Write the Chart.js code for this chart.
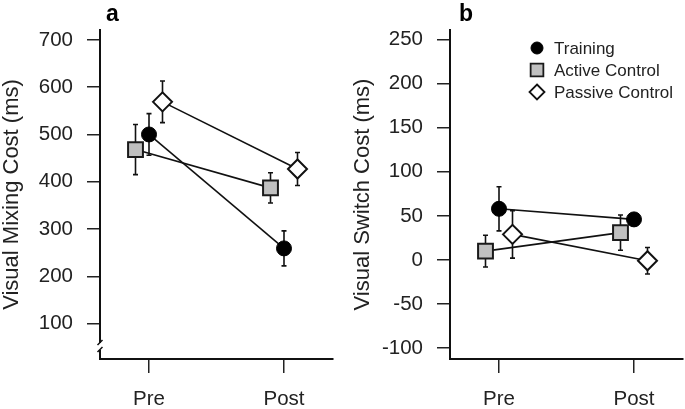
<!DOCTYPE html>
<html><head><meta charset="utf-8">
<script src="https://cdn.jsdelivr.net/npm/chart.js@4.4.0/dist/chart.umd.min.js"></script>
<style>
html,body{margin:0;padding:0;background:#fff;width:685px;height:409px;overflow:hidden}
#wa{position:absolute;left:0;top:0;width:342px;height:409px}
#wb{position:absolute;left:342px;top:0;width:343px;height:409px}
.lbl{position:absolute;font:bold 23px "Liberation Sans",Arial,sans-serif;color:#000;line-height:23px}
</style></head><body>
<div id="wa"><canvas id="ca" width="342" height="409"></canvas></div>
<div id="wb"><canvas id="cb" width="343" height="409"></canvas></div>
<div class="lbl" style="left:106px;top:2px">a</div>
<div class="lbl" style="left:459px;top:2px">b</div>
<script>
// ---- data ----
const categories = ['Pre', 'Post'];
const groups = ['Training', 'Active Control', 'Passive Control'];
const mixingTicks = [100, 200, 300, 400, 500, 600, 700];
const switchTicks = [-100, -50, 0, 50, 100, 150, 200, 250];

const mixingTraining = [500, 259];
const mixingTrainingErr = [44, 37];
const mixingActive = [468, 387];
const mixingActiveErr = [53, 32];
const mixingPassive = [569, 427];
const mixingPassiveErr = [44, 35];

const switchTraining = [58, 46];
const switchTrainingErr = [25, 7];
const switchActive = [10, 31];
const switchActiveErr = [18, 20];
const switchPassive = [29, -1];
const switchPassiveErr = [27, 15];

// ---- styles ----
const FONT = '"Liberation Sans", Arial, Helvetica, sans-serif';
const groupOffsets = [0, -0.1, 0.1];
const groupStyles = [
  {pointStyle: 'circle', pointRadius: 7.5, pointBackgroundColor: '#000', pointBorderColor: '#000', pointBorderWidth: 1},
  {pointStyle: 'rect', pointRadius: 10.5, pointBackgroundColor: '#c0c0c0', pointBorderColor: '#1a1a1a', pointBorderWidth: 2},
  {pointStyle: 'rectRot', pointRadius: 9.5, pointBackgroundColor: '#fff', pointBorderColor: '#111', pointBorderWidth: 2}
];

function buildDatasets(series, errs) {
  return groups.map((g, k) => Object.assign({
    label: g,
    data: categories.map((c, i) => ({x: i + 1 + groupOffsets[k], y: series[k][i]})),
    err: errs[k],
    borderColor: '#111',
    borderWidth: 1.6,
    fill: false,
    tension: 0,
    pointHoverRadius: 0
  }, groupStyles[k]));
}

const errorBars = {
  id: 'errorBars',
  beforeDatasetsDraw(chart) {
    const {ctx, scales: {x, y}} = chart;
    ctx.save();
    ctx.strokeStyle = '#111';
    ctx.lineWidth = 1.6;
    chart.data.datasets.forEach(ds => {
      ds.data.forEach((p, i) => {
        const px = x.getPixelForValue(p.x);
        const t = y.getPixelForValue(p.y + ds.err[i]);
        const b = y.getPixelForValue(p.y - ds.err[i]);
        ctx.beginPath();
        ctx.moveTo(px, t); ctx.lineTo(px, b);
        ctx.moveTo(px - 2.5, t); ctx.lineTo(px + 2.5, t);
        ctx.moveTo(px - 2.5, b); ctx.lineTo(px + 2.5, b);
        ctx.stroke();
      });
    });
    ctx.restore();
  }
};

const axisBreak = {
  id: 'axisBreak',
  afterDraw(chart) {
    const {ctx, chartArea} = chart;
    const x = chartArea.left, yb = chartArea.bottom - 12;
    ctx.save();
    ctx.fillStyle = '#fff';
    ctx.fillRect(x - 4, yb - 4, 8, 7);
    ctx.strokeStyle = '#111';
    ctx.lineWidth = 1.5;
    ctx.beginPath();
    ctx.moveTo(x - 2.5, yb - 2); ctx.lineTo(x + 2.5, yb - 7);
    ctx.moveTo(x - 2.5, yb + 5); ctx.lineTo(x + 2.5, yb);
    ctx.stroke();
    ctx.restore();
  }
};

function drawMarker(ctx, style, x, y, r) {
  ctx.beginPath();
  if (style === 'circle') {
    ctx.arc(x, y, r, 0, Math.PI * 2);
  } else if (style === 'rect') {
    const s = r * Math.SQRT1_2;
    ctx.rect(x - s, y - s, 2 * s, 2 * s);
  } else {
    ctx.moveTo(x, y - r); ctx.lineTo(x + r, y); ctx.lineTo(x, y + r); ctx.lineTo(x - r, y); ctx.closePath();
  }
  ctx.fill();
  ctx.stroke();
}

const panelLegend = {
  id: 'panelLegend',
  afterDraw(chart) {
    const {ctx} = chart;
    ctx.save();
    chart.data.datasets.forEach((ds, k) => {
      const y = 48 + k * 22;
      ctx.fillStyle = ds.pointBackgroundColor;
      ctx.strokeStyle = ds.pointBorderColor;
      ctx.lineWidth = ds.pointBorderWidth > 1 ? 1.8 : 1;
      drawMarker(ctx, ds.pointStyle, 195, y, ds.pointStyle === 'circle' ? 6 : (ds.pointStyle === 'rect' ? 9 : 7.5));
      ctx.fillStyle = '#222';
      ctx.font = '17px ' + FONT;
      ctx.textAlign = 'left';
      ctx.textBaseline = 'middle';
      ctx.fillText(ds.label, 212, y + 1);
    });
    ctx.restore();
  }
};

function makeChart(id, series, errs, ticks, yMin, yMax, title, yWidth, padRight, titlePad, extraPlugins) {
  return new Chart(document.getElementById(id), {
    type: 'line',
    data: {datasets: buildDatasets(series, errs)},
    options: {
      responsive: false,
      animation: false,
      events: [],
      layout: {autoPadding: false, padding: {left: 0, right: padRight, top: 30, bottom: 0}},
      plugins: {legend: {display: false}, tooltip: {enabled: false}},
      scales: {
        x: {
          type: 'linear',
          min: 0.637, max: 2.363,
          afterBuildTicks: s => { s.ticks = categories.map((c, i) => ({value: i + 1})); },
          afterFit: s => { s.height = 50; s.paddingLeft = 0; s.paddingRight = 0; },
          ticks: {
            callback: v => categories[Math.round(v) - 1],
            font: {family: FONT, size: 20.5}, color: '#222', padding: 14, maxRotation: 0
          },
          grid: {display: true, drawOnChartArea: false, drawTicks: true, tickLength: 14, color: '#222', lineWidth: 1.5},
          border: {display: true, color: '#111', width: 2}
        },
        y: {
          type: 'linear',
          min: yMin, max: yMax,
          afterBuildTicks: s => { s.ticks = ticks.map(v => ({value: v})); },
          afterFit: s => { s.width = yWidth; s.paddingTop = 0; s.paddingBottom = 0; },
          ticks: {font: {family: FONT, size: 20.5}, color: '#222', padding: 14},
          grid: {display: true, drawOnChartArea: false, drawTicks: true, tickLength: 13, color: '#222', lineWidth: 1.5},
          border: {display: true, color: '#111', width: 2},
          title: {display: true, text: title, font: {family: FONT, size: 22, lineHeight: 1}, color: '#222', padding: {top: titlePad, bottom: 0}}
        }
      }
    },
    plugins: [errorBars].concat(extraPlugins)
  });
}

makeChart('ca',
  [mixingTraining, mixingActive, mixingPassive],
  [mixingTrainingErr, mixingActiveErr, mixingPassiveErr],
  mixingTicks, 25, 721, 'Visual Mixing Cost (ms)', 100, 9, 1, [axisBreak]);

makeChart('cb',
  [switchTraining, switchActive, switchPassive],
  [switchTrainingErr, switchActiveErr, switchPassiveErr],
  switchTicks, -112.5, 261, 'Visual Switch Cost (ms)', 108, 2, 9.5, [panelLegend]);
</script>
</body></html>
